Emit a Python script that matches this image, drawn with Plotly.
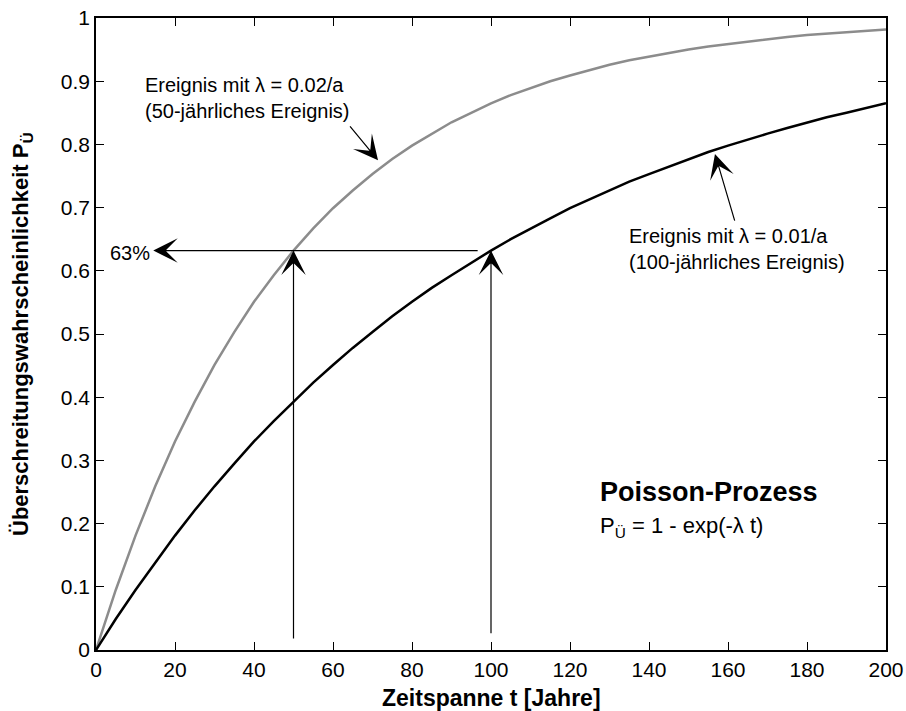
import plotly.graph_objects as go

# Zeitspanne t in Jahren
years = [0, 5, 10, 15, 20, 25, 30, 35, 40, 45, 50, 55, 60, 65, 70, 75, 80, 85, 90, 95, 100,
         105, 110, 115, 120, 125, 130, 135, 140, 145, 150, 155, 160, 165, 170, 175, 180,
         185, 190, 195, 200]

# Überschreitungswahrscheinlichkeit, 50-jährliches Ereignis (lambda = 0.02/a)
p_50 = [0, 0.095, 0.181, 0.259, 0.330, 0.393, 0.451, 0.503, 0.551, 0.593, 0.632,
        0.667, 0.699, 0.727, 0.753, 0.777, 0.798, 0.817, 0.835, 0.850, 0.865,
        0.878, 0.889, 0.900, 0.909, 0.918, 0.926, 0.933, 0.939, 0.945, 0.950,
        0.955, 0.959, 0.963, 0.967, 0.970, 0.973, 0.975, 0.978, 0.980, 0.982]

# Überschreitungswahrscheinlichkeit, 100-jährliches Ereignis (lambda = 0.01/a)
p_100 = [0, 0.049, 0.095, 0.139, 0.181, 0.221, 0.259, 0.295, 0.330, 0.362, 0.393,
         0.423, 0.451, 0.478, 0.503, 0.528, 0.551, 0.573, 0.593, 0.613, 0.632,
         0.650, 0.667, 0.683, 0.699, 0.713, 0.727, 0.741, 0.753, 0.765, 0.777,
         0.788, 0.798, 0.808, 0.817, 0.826, 0.835, 0.843, 0.850, 0.857, 0.865]

x_ticks = [0, 20, 40, 60, 80, 100, 120, 140, 160, 180, 200]
y_ticks = [0, 0.1, 0.2, 0.3, 0.4, 0.5, 0.6, 0.7, 0.8, 0.9, 1]
y_tick_text = ["0", "0.1", "0.2", "0.3", "0.4", "0.5", "0.6", "0.7", "0.8", "0.9", "1"]

level_63 = 0.632
return_periods = [50, 100]

FONT = "Liberation Sans, Arial, sans-serif"

fig = go.Figure()
fig.add_trace(go.Scatter(x=years, y=p_50, mode="lines",
                         line=dict(color="rgb(140,140,140)", width=2.5),
                         showlegend=False, hoverinfo="skip"))
fig.add_trace(go.Scatter(x=years, y=p_100, mode="lines",
                         line=dict(color="black", width=2.5),
                         showlegend=False, hoverinfo="skip"))

ann = []


def arrow(x, y, ax, ay):
    ann.append(dict(x=x, y=y, ax=ax, ay=ay, xref="x", yref="y", axref="x", ayref="y",
                    text="", showarrow=True, arrowhead=3, arrowsize=3.4,
                    arrowwidth=1.2, arrowcolor="black", standoff=0))


# vertical arrows from the time axis up to the 63 % level
arrow(return_periods[0], level_63, return_periods[0], 0.016)
arrow(return_periods[1], level_63, return_periods[1], 0.024)
# horizontal arrow to the 63 % label
arrow(14.5, level_63, 97, level_63)
# arrows pointing at the two curves
arrow(71.4, 0.775, 64.0, 0.831)
arrow(156.7, 0.785, 161.8, 0.677)

txt_font = dict(family=FONT, size=20, color="black")

ann.append(dict(x=3.0, y=0.628, xref="x", yref="y", text="63%", showarrow=False,
                xanchor="left", yanchor="middle", font=txt_font))
ann.append(dict(x=11.9, y=0.873, xref="x", yref="y",
                text="Ereignis mit λ = 0.02/a<br>(50-jährliches Ereignis)",
                showarrow=False, xanchor="left", yanchor="middle", align="left",
                font=txt_font))
ann.append(dict(x=134.4, y=0.635, xref="x", yref="y",
                text="Ereignis mit λ = 0.01/a<br>(100-jährliches Ereignis)",
                showarrow=False, xanchor="left", yanchor="middle", align="left",
                font=txt_font))
ann.append(dict(x=127.0, y=0.25, xref="x", yref="y", text="<b>Poisson-Prozess</b>",
                showarrow=False, xanchor="left", yanchor="middle",
                font=dict(family=FONT, size=27, color="black")))
ann.append(dict(x=127.0, y=0.195, xref="x", yref="y",
                text="P<sub>Ü</sub> = 1 - exp(-λ t)",
                showarrow=False, xanchor="left", yanchor="middle",
                font=dict(family=FONT, size=22, color="black")))

# axis titles
ann.append(dict(x=0.5, y=0, xref="paper", yref="paper", yshift=-48,
                text="<b>Zeitspanne t [Jahre]</b>", showarrow=False,
                xanchor="center", yanchor="middle",
                font=dict(family=FONT, size=23, color="black")))
ann.append(dict(x=0, y=0.5, xref="paper", yref="paper", xshift=-74,
                text="<b>Überschreitungswahrscheinlichkeit P<sub>Ü</sub></b>",
                showarrow=False, textangle=-90, xanchor="center", yanchor="middle",
                font=dict(family=FONT, size=22, color="black")))

axis_common = dict(showline=True, linecolor="black", linewidth=1.5, mirror="ticks",
                   ticks="inside", ticklen=8, tickwidth=1, tickcolor="black",
                   showgrid=False, zeroline=False, automargin=False,
                   tickfont=dict(family=FONT, size=21, color="black"))

fig.update_layout(
    width=906, height=711, autosize=False,
    margin=dict(l=96, r=20, t=18, b=61),
    paper_bgcolor="white", plot_bgcolor="white",
    xaxis=dict(range=[0, 200], tickvals=x_ticks, ticktext=[str(v) for v in x_ticks],
               **axis_common),
    yaxis=dict(range=[0, 1], tickvals=y_ticks, ticktext=y_tick_text, **axis_common),
    annotations=ann,
)

fig.write_html("out.html")
